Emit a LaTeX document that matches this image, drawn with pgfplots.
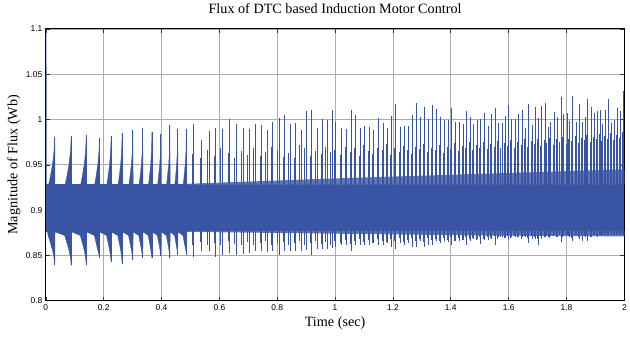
\documentclass[border=0pt]{standalone}
\usepackage{fontspec}
\setmainfont{Liberation Serif}
\setsansfont{Liberation Sans}
\usepackage{pgfplots}
\usepackage{pgfplotstable}
\pgfplotsset{compat=1.18}
\definecolor{fluxblue}{RGB}{58,84,164}
% main spikes: time, peak (upper), dip (lower)
\pgfplotstableread{
t h d
0.031 0.981 0.839
0.088 0.982 0.839
0.140 0.983 0.839
0.186 0.980 0.847
0.226 0.982 0.843
0.264 0.985 0.841
0.301 0.988 0.845
0.335 0.991 0.847
0.367 0.986 0.847
0.398 0.984 0.849
0.429 0.994 0.847
0.456 0.990 0.851
0.486 0.989 0.851
0.511 0.995 0.848
0.539 0.977 0.855
0.565 0.987 0.855
0.588 0.991 0.848
0.611 0.990 0.851
0.636 1.000 0.853
0.659 0.995 0.851
0.682 0.991 0.852
0.703 0.989 0.853
0.723 0.995 0.855
0.746 0.994 0.855
0.766 0.988 0.854
0.785 0.997 0.855
0.806 1.002 0.851
0.826 1.005 0.855
0.846 0.995 0.855
0.864 0.996 0.855
0.883 0.988 0.855
0.901 1.009 0.856
0.920 1.011 0.851
0.938 0.991 0.857
0.957 1.000 0.857
0.972 0.999 0.857
0.990 1.010 0.858
1.003 0.997 0.859
1.022 0.991 0.861
1.041 0.989 0.862
1.056 1.010 0.855
1.070 1.005 0.861
1.087 0.991 0.862
1.102 0.993 0.862
1.118 0.992 0.862
1.133 0.988 0.864
1.150 1.002 0.861
1.168 0.996 0.862
1.182 0.991 0.864
1.196 1.004 0.859
1.210 1.017 0.857
1.225 0.992 0.864
1.240 0.993 0.862
1.254 0.993 0.864
1.269 1.005 0.859
1.283 1.018 0.859
1.296 1.003 0.866
1.309 1.014 0.859
1.323 1.000 0.862
1.337 1.016 0.862
1.349 1.012 0.866
1.363 1.003 0.864
1.378 0.999 0.866
1.392 0.999 0.865
1.403 1.013 0.862
1.417 0.997 0.866
1.430 0.997 0.866
1.443 0.995 0.867
1.455 1.009 0.861
1.469 1.003 0.866
1.480 0.995 0.868
1.492 0.999 0.868
1.503 1.000 0.863
1.516 1.007 0.867
1.529 0.993 0.867
1.541 1.006 0.868
1.554 1.013 0.861
1.565 0.996 0.870
1.577 0.996 0.870
1.588 1.004 0.869
1.600 1.016 0.867
1.611 1.000 0.870
1.624 1.000 0.870
1.635 1.006 0.870
1.647 1.011 0.870
1.658 0.991 0.870
1.670 1.017 0.864
1.681 0.994 0.868
1.692 1.014 0.868
1.704 1.002 0.862
1.715 1.015 0.868
1.727 1.018 0.870
1.736 0.992 0.870
1.746 0.997 0.872
1.758 1.008 0.872
1.769 1.003 0.870
1.781 1.025 0.865
1.791 1.006 0.872
1.802 1.007 0.872
1.811 0.998 0.870
1.821 1.026 0.866
1.833 0.997 0.872
1.844 1.017 0.868
1.854 0.997 0.866
1.864 1.003 0.870
1.874 1.023 0.866
1.885 1.014 0.870
1.896 1.007 0.872
1.906 1.009 0.870
1.916 1.011 0.872
1.926 0.995 0.872
1.936 1.010 0.872
1.946 1.023 0.872
1.957 0.996 0.873
1.967 0.999 0.873
1.977 1.013 0.872
1.987 1.009 0.873
1.996 1.031 0.872
}\spikes
% secondary (shorter) spikes
\pgfplotstableread{
t s ls
0.505 0.962 0.862
0.533 0.957 0.865
0.559 0.966 0.861
0.582 0.960 0.864
0.605 0.969 0.862
0.630 0.963 0.866
0.653 0.958 0.863
0.676 0.965 0.861
0.697 0.961 0.865
0.717 0.968 0.862
0.740 0.960 0.864
0.760 0.964 0.866
0.779 0.970 0.862
0.800 0.966 0.863
0.820 0.959 0.865
0.840 0.963 0.861
0.858 0.958 0.864
0.877 0.972 0.866
0.895 0.968 0.862
0.914 0.960 0.864
0.932 0.965 0.866
0.951 0.962 0.863
0.966 0.970 0.865
0.984 0.964 0.862
0.999 0.966 0.866
1.018 0.961 0.864
1.037 0.970 0.867
1.052 0.964 0.863
1.066 0.968 0.866
1.083 0.960 0.868
1.098 0.972 0.865
1.114 0.965 0.867
1.129 0.962 0.864
1.146 0.969 0.868
1.164 0.966 0.866
1.178 0.973 0.865
1.192 0.961 0.868
1.206 0.968 0.866
1.221 0.964 0.869
1.236 0.971 0.865
1.250 0.966 0.867
1.265 0.962 0.869
1.279 0.970 0.866
1.292 0.967 0.868
1.305 0.973 0.865
1.319 0.964 0.869
1.333 0.969 0.867
1.345 0.966 0.868
1.359 0.972 0.866
1.374 0.963 0.869
1.388 0.970 0.867
1.399 0.967 0.870
1.413 0.974 0.866
1.426 0.965 0.869
1.439 0.971 0.867
1.451 0.968 0.870
1.465 0.975 0.868
1.476 0.966 0.869
1.488 0.972 0.867
1.499 0.969 0.870
1.512 0.975 0.868
1.525 0.967 0.870
1.537 0.973 0.869
1.550 0.970 0.871
1.561 0.976 0.868
1.573 0.968 0.870
1.584 0.974 0.869
1.596 0.971 0.871
1.607 0.977 0.869
1.620 0.969 0.871
1.631 0.975 0.870
1.643 0.972 0.868
1.654 0.978 0.871
1.666 0.970 0.869
1.677 0.976 0.871
1.688 0.973 0.870
1.700 0.979 0.868
1.711 0.971 0.871
1.723 0.977 0.870
1.732 0.974 0.872
1.742 0.980 0.869
1.754 0.972 0.871
1.765 0.978 0.870
1.777 0.975 0.872
1.787 0.981 0.870
1.798 0.973 0.872
1.807 0.979 0.871
1.817 0.976 0.869
1.829 0.982 0.872
1.840 0.974 0.870
1.850 0.980 0.872
1.860 0.977 0.871
1.870 0.983 0.873
1.881 0.975 0.870
1.892 0.981 0.872
1.902 0.978 0.871
1.912 0.984 0.873
1.922 0.976 0.871
1.932 0.982 0.873
1.942 0.979 0.872
1.953 0.985 0.874
1.963 0.977 0.872
1.973 0.983 0.873
1.983 0.980 0.872
1.992 0.986 0.874
}\subspikes
\begin{document}
\begin{tikzpicture}
\begin{axis}[
  width=581bp, height=273bp, scale only axis,
  xmin=0, xmax=2, ymin=0.8, ymax=1.1,
  xtick={0,0.2,0.4,0.6,0.8,1,1.2,1.4,1.6,1.8,2},
  ytick={0.8,0.85,0.9,0.95,1,1.05,1.1},
  grid=major,
  grid style={gray!65, line width=0.7bp},
  axis line style={black, line width=0.9bp},
  tick align=inside, major tick length=4bp,
  tick style={black!80, line width=0.6bp},
  tick label style={font=\fontsize{8.5}{10}\sffamily},
  /pgf/number format/assume math mode=true,
  title={Flux of DTC based Induction Motor Control},
  title style={font=\fontsize{14.3}{16}\selectfont, at={(axis description cs:0.5,1.051)}, anchor=center},
  xlabel={Time (sec)},
  xlabel style={font=\fontsize{14.3}{16}\selectfont, at={(axis description cs:0.5,-0.084)}, anchor=center},
  ylabel={Magnitude of Flux (Wb)},
  ylabel style={font=\fontsize{14.3}{16}\selectfont, at={(axis description cs:-0.055,0.5)}, anchor=center},
]
% dense oscillation band
\addplot[fill=fluxblue, draw=none] coordinates {(0,0.876) (2,0.876) (2,0.929) (0,0.929)};
% dense fringe of fast ripple that grows with time (upper and lower)
\addplot[fill=fluxblue!80, draw=none] coordinates {(0.49,0.929) (1.0,0.935) (1.5,0.940) (2,0.945) (2,0.928) (0.49,0.928)};
\addplot[fill=fluxblue!80, draw=none] coordinates {(0.49,0.876) (1.0,0.874) (1.5,0.872) (2,0.871) (2,0.877) (0.49,0.877)};
% early saw-tooth envelope, upper side
\addplot[fill=fluxblue, draw=fluxblue, line width=0.4bp] coordinates {
(0,0.92)
(0.0082,0.926) (0.0139,0.934) (0.023,0.950) (0.0281,0.964) (0.031,0.981) (0.0318,0.926)
(0.0652,0.926) (0.0709,0.934) (0.080,0.950) (0.0851,0.964) (0.088,0.982) (0.0888,0.926)
(0.1192,0.926) (0.1244,0.934) (0.1327,0.950) (0.1374,0.964) (0.140,0.983) (0.1408,0.926)
(0.1676,0.926) (0.1722,0.934) (0.1796,0.950) (0.1837,0.964) (0.186,0.980) (0.1868,0.926)
(0.210,0.926) (0.214,0.934) (0.2204,0.950) (0.224,0.964) (0.226,0.982) (0.2268,0.926)
(0.2488,0.926) (0.2526,0.934) (0.2587,0.950) (0.2621,0.964) (0.264,0.985) (0.2648,0.926)
(0.2862,0.926) (0.2899,0.934) (0.2958,0.950) (0.2991,0.964) (0.301,0.988) (0.3018,0.926)
(0.3214,0.926) (0.3248,0.934) (0.3302,0.950) (0.3333,0.964) (0.335,0.991) (0.3358,0.926)
(0.3542,0.926) (0.3574,0.934) (0.3625,0.950) (0.3654,0.964) (0.367,0.986) (0.3678,0.926)
(0.3856,0.926) (0.3887,0.934) (0.3937,0.950) (0.3964,0.964) (0.398,0.984) (0.3988,0.926)
(0.4166,0.926) (0.4197,0.934) (0.4247,0.950) (0.4274,0.964) (0.429,0.994) (0.4298,0.926)
(0.4452,0.926) (0.4479,0.934) (0.4522,0.950) (0.4546,0.964) (0.456,0.990) (0.4568,0.926)
(0.474,0.926) (0.477,0.934) (0.4818,0.950) (0.4845,0.964) (0.486,0.989) (0.4868,0.926)
(0.49,0.92)
};
% early saw-tooth envelope, lower side
\addplot[fill=fluxblue, draw=fluxblue, line width=0.4bp] coordinates {
(0,0.885)
(0.0082,0.872) (0.0139,0.866) (0.023,0.856) (0.0281,0.848) (0.031,0.839) (0.0318,0.876)
(0.0652,0.872) (0.0709,0.866) (0.080,0.856) (0.0851,0.848) (0.088,0.839) (0.0888,0.876)
(0.1192,0.872) (0.1244,0.866) (0.1327,0.856) (0.1374,0.848) (0.140,0.839) (0.1408,0.876)
(0.1676,0.872) (0.1722,0.866) (0.1796,0.856) (0.1837,0.851) (0.186,0.847) (0.1868,0.876)
(0.210,0.872) (0.214,0.866) (0.2204,0.856) (0.224,0.849) (0.226,0.843) (0.2268,0.876)
(0.2488,0.872) (0.2526,0.866) (0.2587,0.856) (0.2621,0.848) (0.264,0.841) (0.2648,0.876)
(0.2862,0.872) (0.2899,0.866) (0.2958,0.856) (0.2991,0.850) (0.301,0.845) (0.3018,0.876)
(0.3214,0.872) (0.3248,0.866) (0.3302,0.857) (0.3333,0.851) (0.335,0.847) (0.3358,0.876)
(0.3542,0.872) (0.3574,0.866) (0.3625,0.857) (0.3654,0.851) (0.367,0.847) (0.3678,0.876)
(0.3856,0.872) (0.3887,0.867) (0.3937,0.858) (0.3964,0.853) (0.398,0.849) (0.3988,0.876)
(0.4166,0.872) (0.4197,0.867) (0.4247,0.858) (0.4274,0.852) (0.429,0.847) (0.4298,0.876)
(0.4452,0.872) (0.4479,0.867) (0.4522,0.859) (0.4546,0.855) (0.456,0.851) (0.4568,0.876)
(0.474,0.872) (0.477,0.867) (0.4818,0.859) (0.4845,0.855) (0.486,0.851) (0.4868,0.876)
(0.49,0.885)
};
% main spikes: a vertical stroke from the dip to the peak
\addplot[color=fluxblue, draw=none, mark=none,
  error bars/.cd, y dir=minus, y explicit, error mark=none,
  error bar style={draw=fluxblue, color=fluxblue, solid, line width=0.9bp}]
  table[x=t, y=h, y error minus expr=\thisrow{h}-\thisrow{d}] {\spikes};
% secondary spikes
\addplot[color=fluxblue, draw=none, mark=none,
  error bars/.cd, y dir=minus, y explicit, error mark=none,
  error bar style={draw=fluxblue, color=fluxblue, solid, line width=0.7bp}]
  table[x=t, y=s, y error minus expr=\thisrow{s}-\thisrow{ls}] {\subspikes};
% start-up transient
\addplot[fluxblue, line width=0.8bp] coordinates {(0,0.9) (0.0008,1.12) (0.0016,0.9)};
\end{axis}
\path (current axis.south west) ++(-46bp,-38bp) rectangle ++(630bp,340bp);
\end{tikzpicture}
\end{document}
